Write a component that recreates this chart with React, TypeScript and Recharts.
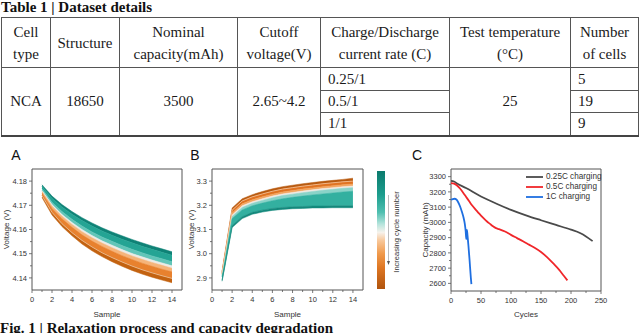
import React from 'react';
import { ComposedChart, Area, Line, XAxis, YAxis, ReferenceArea } from 'recharts';

// ---------------- Table data ----------------
const tableTitle = 'Table 1 | Dataset details';
const tableHeaders = ['Cell\ntype', 'Structure', 'Nominal\ncapacity(mAh)', 'Cutoff\nvoltage(V)', 'Charge/Discharge\ncurrent rate (C)', 'Test temperature\n(°C)', 'Number\nof cells'];
const cellInfo = ['NCA', '18650', '3500', '2.65~4.2'];
const chargeRates = ['0.25/1', '0.5/1', '1/1'];
const testTemperature = '25';
const cellCounts = ['5', '19', '9'];
const figCaption = 'Fig. 1 | Relaxation process and capacity degradation';

// ---------------- Panel A: relaxation voltage band (edges, top -> bottom) ----------------
const samples = [1, 2, 3, 4, 5, 6, 7, 8, 9, 10, 11, 12, 13, 14];
const aEdge0 = [4.1785, 4.1738, 4.1703, 4.1674, 4.1649, 4.1627, 4.1607, 4.1590, 4.1574, 4.1559, 4.1545, 4.1532, 4.1520, 4.1508];
const aEdge1 = [4.1779, 4.1729, 4.1693, 4.1663, 4.1637, 4.1614, 4.1594, 4.1576, 4.1560, 4.1545, 4.1531, 4.1518, 4.1506, 4.1494];
const aEdge2 = [4.1768, 4.1713, 4.1674, 4.1642, 4.1614, 4.1590, 4.1569, 4.1551, 4.1534, 4.1518, 4.1504, 4.1491, 4.1479, 4.1467];
const aEdge3 = [4.1761, 4.1703, 4.1662, 4.1629, 4.1600, 4.1575, 4.1553, 4.1535, 4.1517, 4.1501, 4.1487, 4.1474, 4.1462, 4.1450];
const aEdge4 = [4.1757, 4.1697, 4.1655, 4.1621, 4.1591, 4.1566, 4.1544, 4.1525, 4.1507, 4.1491, 4.1477, 4.1464, 4.1452, 4.1440];
const aEdge5 = [4.1751, 4.1687, 4.1644, 4.1609, 4.1578, 4.1552, 4.1530, 4.1510, 4.1492, 4.1476, 4.1461, 4.1448, 4.1436, 4.1425];
const aEdge6 = [4.1740, 4.1671, 4.1624, 4.1587, 4.1555, 4.1528, 4.1504, 4.1484, 4.1466, 4.1449, 4.1434, 4.1421, 4.1409, 4.1398];
const aEdge7 = [4.1732, 4.1660, 4.1612, 4.1574, 4.1540, 4.1512, 4.1488, 4.1467, 4.1448, 4.1431, 4.1416, 4.1403, 4.1391, 4.1380];
const aBandColors = ['#0f8276', '#24a494', '#62c5b8', '#ecebe6', '#f5b47a', '#e8812e', '#c36210'];
const aXTicks = [0, 1, 2, 3, 4, 5, 6, 7, 8, 9, 10, 11, 12, 13, 14];
const aYTicks = [4.14, 4.145, 4.15, 4.155, 4.16, 4.165, 4.17, 4.175, 4.18];

// ---------------- Panel B ----------------
const bEdge0 = [2.927, 3.189, 3.227, 3.244, 3.257, 3.268, 3.277, 3.283, 3.289, 3.294, 3.299, 3.303, 3.307, 3.312];
const bEdge1 = [2.922, 3.180, 3.218, 3.235, 3.247, 3.258, 3.267, 3.273, 3.279, 3.284, 3.289, 3.293, 3.297, 3.300];
const bEdge2 = [2.916, 3.168, 3.206, 3.223, 3.235, 3.246, 3.255, 3.261, 3.267, 3.272, 3.277, 3.281, 3.285, 3.288];
const bEdge3 = [2.912, 3.160, 3.198, 3.215, 3.227, 3.238, 3.247, 3.253, 3.259, 3.264, 3.269, 3.273, 3.277, 3.280];
const bEdge4 = [2.909, 3.154, 3.191, 3.208, 3.220, 3.231, 3.240, 3.246, 3.252, 3.257, 3.262, 3.266, 3.270, 3.273];
const bEdge5 = [2.904, 3.145, 3.181, 3.198, 3.209, 3.219, 3.227, 3.233, 3.238, 3.243, 3.247, 3.251, 3.255, 3.258];
const bEdge6 = [2.890, 3.116, 3.153, 3.171, 3.180, 3.187, 3.191, 3.194, 3.195, 3.197, 3.197, 3.198, 3.198, 3.198];
const bEdge7 = [2.886, 3.108, 3.145, 3.163, 3.172, 3.179, 3.183, 3.186, 3.187, 3.189, 3.189, 3.190, 3.190, 3.190];
const bBandColors = ['#b85a10', '#e07322', '#f3a45e', '#eee9e2', '#8ad3c8', '#33b0a0', '#14897c'];
const bYTicks = [2.9, 2.95, 3.0, 3.05, 3.1, 3.15, 3.2, 3.25, 3.3];

// ---------------- Panel C: capacity degradation ----------------
const c025Cycles = [0, 5, 10, 25, 50, 75, 100, 125, 150, 175, 200, 215, 225, 236];
const c025Capacity = [3272, 3268, 3255, 3225, 3170, 3124, 3082, 3046, 3014, 2983, 2952, 2930, 2908, 2877];
const c05Cycles = [0, 5, 10, 15, 20, 25, 30, 35, 40, 45, 50, 55, 60, 65, 70, 75, 80, 90, 100, 110, 120, 130, 140, 150, 160, 170, 180, 188, 194];
const c05Capacity = [3258, 3254, 3242, 3222, 3196, 3168, 3140, 3112, 3088, 3066, 3044, 3024, 3006, 2990, 2974, 2962, 2956, 2940, 2918, 2897, 2876, 2854, 2832, 2806, 2772, 2732, 2690, 2650, 2620];
const c1Cycles = [0, 3, 6, 9, 12, 15, 18, 21, 23, 24.5, 25.5, 26.5, 27.5, 29, 31, 33, 34];
const c1Capacity = [3148, 3153, 3155, 3150, 3132, 3106, 3072, 3030, 2990, 2940, 2890, 2950, 2915, 2850, 2750, 2640, 2595];
const cSeriesNames = ['0.25C charging', '0.5C charging', '1C charging'];
const cSeriesColors = ['#4a4a4a', '#f0262a', '#1f6fe0'];
const cXTicks = [0, 25, 50, 75, 100, 125, 150, 175, 200, 225, 250];
const cYTicks = [2600, 2650, 2700, 2750, 2800, 2850, 2900, 2950, 3000, 3050, 3100, 3150, 3200, 3250, 3300];

const colorbarLabel = 'Increasing cycle number';

// ---------------- helpers ----------------
const SANS = '"Liberation Sans", Arial, sans-serif';
const SERIF = '"Liberation Serif", "Times New Roman", serif';
const AXIS = '#555';

function buildBandRows(edges: number[][]) {
  return samples.map((s, i) => {
    const row: Record<string, any> = { s };
    for (let k = 0; k < edges.length - 1; k++) row['band' + k] = [edges[k + 1][i], edges[k][i]];
    return row;
  });
}
const aRows = buildBandRows([aEdge0, aEdge1, aEdge2, aEdge3, aEdge4, aEdge5, aEdge6, aEdge7]).map((r, i) => ({ ...r, hl: aEdge6[i] }));
const bRows = buildBandRows([bEdge0, bEdge1, bEdge2, bEdge3, bEdge4, bEdge5, bEdge6, bEdge7]).map((r, i) => ({ ...r, hl: bEdge1[i] }));
const c025Data = c025Cycles.map((c, i) => ({ c, v: c025Capacity[i] }));
const c05Data = c05Cycles.map((c, i) => ({ c, v: c05Capacity[i] }));
const c1Data = c1Cycles.map((c, i) => ({ c, v: c1Capacity[i] }));

function makeXTick(plotBottom: number, isMajor: (v: number) => boolean, fmt: (v: number) => string) {
  return (props: any) => {
    const { x, payload } = props;
    const v = payload.value;
    const major = isMajor(v);
    return (
      <g>
        <line x1={x} x2={x} y1={plotBottom} y2={plotBottom + (major ? 3 : 2)} stroke={AXIS} strokeWidth={0.8} />
        {major ? (
          <text x={x} y={plotBottom + 11.8} textAnchor="middle" fontSize={7.5} fontFamily={SANS} fill="#333">
            {fmt(v)}
          </text>
        ) : null}
      </g>
    );
  };
}
function makeYTick(plotLeft: number, isMajor: (v: number) => boolean, fmt: (v: number) => string) {
  return (props: any) => {
    const { y, payload } = props;
    const v = payload.value;
    const major = isMajor(v);
    return (
      <g>
        <line x1={plotLeft - (major ? 3 : 2)} x2={plotLeft} y1={y} y2={y} stroke={AXIS} strokeWidth={0.8} />
        {major ? (
          <text x={plotLeft - 5} y={y + 2.7} textAnchor="end" fontSize={7.5} fontFamily={SANS} fill="#333">
            {fmt(v)}
          </text>
        ) : null}
      </g>
    );
  };
}
function xTitle(text: string, cx: number, baseline: number) {
  return () => (
    <text x={cx} y={baseline} textAnchor="middle" fontSize={8} fontFamily={SANS} fill="#333">{text}</text>
  );
}
function yTitle(text: string, cx: number, cy: number) {
  return () => (
    <text x={cx} y={cy} transform={`rotate(-90 ${cx} ${cy})`} textAnchor="middle" dominantBaseline="central" fontSize={8} fontFamily={SANS} fill="#333">{text}</text>
  );
}

function BandChart(props: { rows: any[]; colors: string[]; yDomain: [number, number]; yTicks: number[]; yMajor: (v: number) => boolean; yFmt: (v: number) => string; hlColor: string; left: number; width: number; right: number; yTitleX: number }) {
  const { rows, colors, yDomain, yTicks, yMajor, yFmt, hlColor, left, width, right, yTitleX } = props;
  const plotLeft = 32;
  const plotBottom = 140;
  const plotCenterX = plotLeft + (width - right - plotLeft) / 2;
  return (
    <div style={{ position: 'absolute', left, top: 150, width, height: 180 }}>
      <ComposedChart width={width} height={180} data={rows} margin={{ top: 19, right, bottom: 10, left: 0 }}>
        <XAxis dataKey="s" type="number" domain={[0, 15]} allowDataOverflow ticks={aXTicks} interval={0} axisLine={false} tickLine={false} height={30}
          tick={makeXTick(plotBottom, (v) => v % 2 === 0, (v) => String(v))}
          label={{ content: xTitle('Sample', plotCenterX, 166.5) }} />
        <YAxis type="number" domain={yDomain} allowDataOverflow ticks={yTicks} interval={0} axisLine={false} tickLine={false} width={plotLeft}
          tick={makeYTick(plotLeft, yMajor, yFmt)}
          label={{ content: yTitle('Voltage (V)', yTitleX, 79.5) }} />
        {colors.map((c, k) => (
          <Area key={k} type="linear" dataKey={'band' + k} stroke={c} strokeWidth={0.5} fill={c} fillOpacity={1} dot={false} activeDot={false} isAnimationActive={false} />
        ))}
        <Line type="linear" dataKey="hl" stroke={hlColor} strokeWidth={0.7} dot={false} activeDot={false} isAnimationActive={false} />
        <ReferenceArea x1={0} x2={15} y1={yDomain[0]} y2={yDomain[1]} fill="none" stroke={AXIS} strokeWidth={1} ifOverflow="visible" />
      </ComposedChart>
    </div>
  );
}

export default function App() {
  const cellStyle: React.CSSProperties = { border: '1px solid #555', padding: 0, textAlign: 'center', verticalAlign: 'middle' };
  const leftCell: React.CSSProperties = { ...cellStyle, textAlign: 'left', paddingLeft: 7 };
  const colWidths = [49, 69, 118, 83, 129, 121, 68];
  return (
    <div style={{ position: 'absolute', left: 0, top: 0, width: 640, height: 333, overflow: 'hidden', background: '#fff' }}>
      <div style={{ position: 'absolute', left: 1, top: 0, fontFamily: SERIF, fontWeight: 'bold', fontSize: 15, lineHeight: '15px', color: '#111', whiteSpace: 'nowrap' }}>{tableTitle}</div>
      <table style={{ position: 'absolute', left: 1, top: 17, width: 637, borderCollapse: 'collapse', tableLayout: 'fixed', fontFamily: SERIF, fontSize: 15, color: '#1a1a1a', borderTop: '1.5px solid #444', borderBottom: '2px solid #444' }}>
        <colgroup>
          {colWidths.map((w, i) => <col key={i} style={{ width: w }} />)}
        </colgroup>
        <tbody>
          <tr style={{ height: 50 }}>
            {tableHeaders.map((h, i) => (
              <td key={i} style={{ ...cellStyle, whiteSpace: 'pre-line', lineHeight: '22px' }}>{h}</td>
            ))}
          </tr>
          <tr style={{ height: 23 }}>
            {cellInfo.map((c, i) => <td key={i} rowSpan={3} style={cellStyle}>{c}</td>)}
            <td style={leftCell}>{chargeRates[0]}</td>
            <td rowSpan={3} style={cellStyle}>{testTemperature}</td>
            <td style={leftCell}>{cellCounts[0]}</td>
          </tr>
          <tr style={{ height: 22 }}>
            <td style={leftCell}>{chargeRates[1]}</td>
            <td style={leftCell}>{cellCounts[1]}</td>
          </tr>
          <tr style={{ height: 23 }}>
            <td style={leftCell}>{chargeRates[2]}</td>
            <td style={leftCell}>{cellCounts[2]}</td>
          </tr>
        </tbody>
      </table>

      <svg width={640} height={333} style={{ position: 'absolute', left: 0, top: 0 }}>
        <defs>
          <linearGradient id="cbGrad" x1="0" y1="0" x2="0" y2="1">
            <stop offset="0" stopColor="#0b7a6d" />
            <stop offset="0.2" stopColor="#1c9d8d" />
            <stop offset="0.35" stopColor="#4fbfb0" />
            <stop offset="0.45" stopColor="#b5e4dc" />
            <stop offset="0.52" stopColor="#f6f2ec" />
            <stop offset="0.59" stopColor="#f8c799" />
            <stop offset="0.7" stopColor="#f09a4c" />
            <stop offset="0.82" stopColor="#de7623" />
            <stop offset="1" stopColor="#b0540d" />
          </linearGradient>
        </defs>
        <text x={16} y={160} textAnchor="middle" fontSize={14} fontFamily={SANS} fill="#111">A</text>
        <text x={195} y={160} textAnchor="middle" fontSize={14} fontFamily={SANS} fill="#111">B</text>
        <text x={417} y={160} textAnchor="middle" fontSize={14} fontFamily={SANS} fill="#111">C</text>
        <rect x={377} y={171} width={8} height={118} fill="url(#cbGrad)" />
        <line x1={388.5} x2={388.5} y1={195} y2={264} stroke="#aaa" strokeWidth={0.8} />
        <path d="M387 261 L390 261 L388.5 265 Z" fill="#555" />
        <text x={396.5} y={232} transform="rotate(-90 396.5 232)" textAnchor="middle" dominantBaseline="central" fontSize={7.5} fontFamily={SANS} fill="#333">{colorbarLabel}</text>
      </svg>

      <BandChart rows={aRows} colors={aBandColors} yDomain={[4.135, 4.185]} yTicks={aYTicks}
        yMajor={(v) => Math.round(v * 1000) % 10 === 0} yFmt={(v) => v.toFixed(2)} hlColor="#f7d4b4"
        left={0} width={195} right={13} yTitleX={6} />
      <BandChart rows={bRows} colors={bBandColors} yDomain={[2.85, 3.35]} yTicks={bYTicks}
        yMajor={(v) => Math.round(v * 100) % 10 === 0} yFmt={(v) => v.toFixed(1)} hlColor="#f6d0ad"
        left={180} width={200} right={17} yTitleX={11.5} />

      <div style={{ position: 'absolute', left: 405, top: 150, width: 225, height: 180 }}>
        <ComposedChart width={225} height={180} margin={{ top: 19, right: 29, bottom: 9, left: 0 }}>
          <XAxis dataKey="c" type="number" domain={[0, 250]} allowDataOverflow ticks={cXTicks} interval={0} axisLine={false} tickLine={false} height={30}
            tick={makeXTick(141, (v) => v % 50 === 0, (v) => String(v))}
            label={{ content: xTitle('Cycles', 121, 167) }} />
          <YAxis type="number" domain={[2550, 3350]} allowDataOverflow ticks={cYTicks} interval={0} axisLine={false} tickLine={false} width={46}
            tick={makeYTick(46, (v) => v % 100 === 0, (v) => String(v))}
            label={{ content: yTitle('Capacity (mAh)', 20, 80) }} />
          <Line data={c025Data} type="monotone" dataKey="v" name={cSeriesNames[0]} stroke={cSeriesColors[0]} strokeWidth={1.8} dot={false} activeDot={false} isAnimationActive={false} />
          <Line data={c05Data} type="monotone" dataKey="v" name={cSeriesNames[1]} stroke={cSeriesColors[1]} strokeWidth={1.8} dot={false} activeDot={false} isAnimationActive={false} />
          <Line data={c1Data} type="monotone" dataKey="v" name={cSeriesNames[2]} stroke={cSeriesColors[2]} strokeWidth={1.8} dot={false} activeDot={false} isAnimationActive={false} />
          <ReferenceArea x1={0} x2={250} y1={2550} y2={3350} fill="none" stroke={AXIS} strokeWidth={1} ifOverflow="visible" />
        </ComposedChart>
      </div>

      <div style={{ position: 'absolute', left: 526, top: 172, fontFamily: SANS, fontSize: 8.2, color: '#333' }}>
        {cSeriesNames.map((n, i) => (
          <div key={i} style={{ display: 'flex', alignItems: 'center', height: 10, whiteSpace: 'nowrap' }}>
            <svg width={17} height={10} style={{ display: 'block' }}>
              <line x1={0} x2={17} y1={5} y2={5} stroke={cSeriesColors[i]} strokeWidth={1.8} />
            </svg>
            <span style={{ marginLeft: 3, lineHeight: '10px' }}>{n}</span>
          </div>
        ))}
      </div>

      <div style={{ position: 'absolute', left: 0, top: 320.5, fontFamily: SERIF, fontWeight: 'bold', fontSize: 15, lineHeight: '15px', color: '#111', whiteSpace: 'nowrap' }}>{figCaption}</div>
    </div>
  );
}
